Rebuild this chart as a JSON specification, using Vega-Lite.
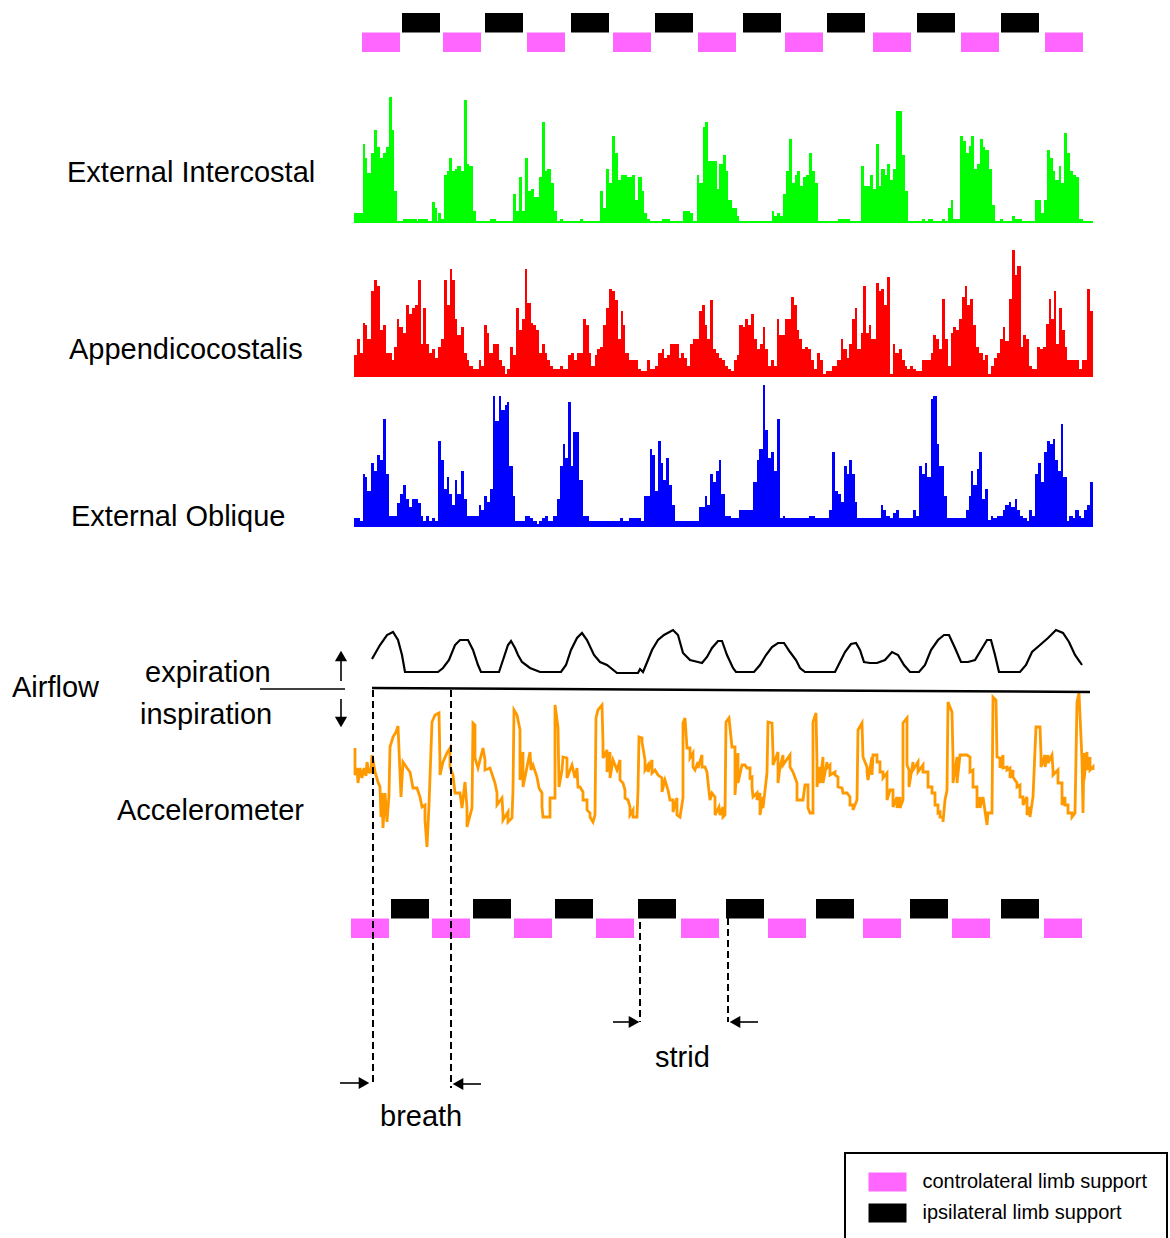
{
"$schema": "https://vega.github.io/schema/vega-lite/v6.json",
"width": 1170, "height": 1238, "autosize": {"type": "none"}, "padding": 0,
"background": "white",
"config": {"view": {"stroke": null}, "text": {"font": "Liberation Sans"}, "legend": {"strokeWidth": 2}},
"datasets": {
"limbs": [
{"rec":"top","limb":"controlateral limb support","start":362,"end":400},
{"rec":"top","limb":"controlateral limb support","start":443,"end":481},
{"rec":"top","limb":"controlateral limb support","start":527,"end":565},
{"rec":"top","limb":"controlateral limb support","start":613,"end":651},
{"rec":"top","limb":"controlateral limb support","start":698,"end":736},
{"rec":"top","limb":"controlateral limb support","start":785,"end":823},
{"rec":"top","limb":"controlateral limb support","start":873,"end":911},
{"rec":"top","limb":"controlateral limb support","start":961,"end":999},
{"rec":"top","limb":"controlateral limb support","start":1045,"end":1083},
{"rec":"top","limb":"ipsilateral limb support","start":402,"end":440},
{"rec":"top","limb":"ipsilateral limb support","start":485,"end":523},
{"rec":"top","limb":"ipsilateral limb support","start":571,"end":609},
{"rec":"top","limb":"ipsilateral limb support","start":655,"end":693},
{"rec":"top","limb":"ipsilateral limb support","start":743,"end":781},
{"rec":"top","limb":"ipsilateral limb support","start":827,"end":865},
{"rec":"top","limb":"ipsilateral limb support","start":917,"end":955},
{"rec":"top","limb":"ipsilateral limb support","start":1001,"end":1039},
{"rec":"bottom","limb":"controlateral limb support","start":351,"end":389},
{"rec":"bottom","limb":"controlateral limb support","start":432,"end":470},
{"rec":"bottom","limb":"controlateral limb support","start":514,"end":552},
{"rec":"bottom","limb":"controlateral limb support","start":596,"end":634},
{"rec":"bottom","limb":"controlateral limb support","start":681,"end":719},
{"rec":"bottom","limb":"controlateral limb support","start":768,"end":806},
{"rec":"bottom","limb":"controlateral limb support","start":863,"end":901},
{"rec":"bottom","limb":"controlateral limb support","start":952,"end":990},
{"rec":"bottom","limb":"controlateral limb support","start":1044,"end":1082},
{"rec":"bottom","limb":"ipsilateral limb support","start":391,"end":429},
{"rec":"bottom","limb":"ipsilateral limb support","start":473,"end":511},
{"rec":"bottom","limb":"ipsilateral limb support","start":555,"end":593},
{"rec":"bottom","limb":"ipsilateral limb support","start":638,"end":676},
{"rec":"bottom","limb":"ipsilateral limb support","start":726,"end":764},
{"rec":"bottom","limb":"ipsilateral limb support","start":816,"end":854},
{"rec":"bottom","limb":"ipsilateral limb support","start":910,"end":948},
{"rec":"bottom","limb":"ipsilateral limb support","start":1001,"end":1039}
],
"green": [
{"t":354,"v":10},{"t":363,"v":79},{"t":365,"v":65},{"t":367,"v":50},{"t":371,"v":70},{"t":374,"v":93},{"t":377,"v":76},{"t":380,"v":65},{"t":383,"v":70},{"t":386,"v":76},{"t":389,"v":126},{"t":392,"v":93},{"t":394,"v":32},{"t":397,"v":2},{"t":403,"v":4},{"t":417,"v":2},{"t":418,"v":4},{"t":428,"v":2},{"t":432,"v":21},{"t":435,"v":15},{"t":437,"v":2},{"t":438,"v":10},{"t":441,"v":4},{"t":444,"v":48},{"t":447,"v":52},{"t":449,"v":65},{"t":452,"v":52},{"t":455,"v":54},{"t":457,"v":57},{"t":461,"v":52},{"t":464,"v":123},{"t":467,"v":59},{"t":469,"v":57},{"t":473,"v":12},{"t":476,"v":2},{"t":490,"v":4},{"t":496,"v":2},{"t":513,"v":29},{"t":516,"v":12},{"t":519,"v":46},{"t":522,"v":12},{"t":525,"v":65},{"t":528,"v":32},{"t":531,"v":34},{"t":534,"v":26},{"t":539,"v":46},{"t":542,"v":101},{"t":545,"v":52},{"t":547,"v":54},{"t":551,"v":40},{"t":554,"v":12},{"t":557,"v":2},{"t":560,"v":4},{"t":563,"v":2},{"t":580,"v":4},{"t":583,"v":2},{"t":600,"v":32},{"t":603,"v":15},{"t":606,"v":54},{"t":609,"v":40},{"t":612,"v":87},{"t":615,"v":70},{"t":618,"v":43},{"t":621,"v":48},{"t":627,"v":46},{"t":632,"v":48},{"t":635,"v":23},{"t":638,"v":46},{"t":642,"v":32},{"t":644,"v":10},{"t":647,"v":4},{"t":650,"v":2},{"t":662,"v":4},{"t":670,"v":2},{"t":683,"v":12},{"t":690,"v":10},{"t":693,"v":2},{"t":697,"v":48},{"t":699,"v":40},{"t":703,"v":96},{"t":705,"v":101},{"t":708,"v":62},{"t":717,"v":34},{"t":719,"v":59},{"t":723,"v":68},{"t":726,"v":52},{"t":728,"v":23},{"t":732,"v":15},{"t":737,"v":7},{"t":739,"v":2},{"t":772,"v":12},{"t":774,"v":7},{"t":777,"v":10},{"t":780,"v":7},{"t":783,"v":29},{"t":786,"v":52},{"t":789,"v":84},{"t":792,"v":40},{"t":795,"v":48},{"t":797,"v":52},{"t":800,"v":37},{"t":803,"v":46},{"t":806,"v":48},{"t":809,"v":70},{"t":812,"v":52},{"t":815,"v":40},{"t":818,"v":2},{"t":838,"v":4},{"t":850,"v":2},{"t":861,"v":57},{"t":864,"v":37},{"t":870,"v":48},{"t":873,"v":34},{"t":876,"v":79},{"t":879,"v":37},{"t":881,"v":54},{"t":885,"v":48},{"t":887,"v":59},{"t":890,"v":43},{"t":893,"v":54},{"t":896,"v":112},{"t":902,"v":68},{"t":905,"v":32},{"t":908,"v":2},{"t":922,"v":4},{"t":925,"v":2},{"t":928,"v":4},{"t":933,"v":2},{"t":942,"v":4},{"t":945,"v":2},{"t":948,"v":15},{"t":951,"v":23},{"t":953,"v":4},{"t":960,"v":87},{"t":963,"v":82},{"t":966,"v":70},{"t":969,"v":77},{"t":971,"v":87},{"t":974,"v":54},{"t":977,"v":59},{"t":980,"v":84},{"t":983,"v":76},{"t":985,"v":73},{"t":989,"v":54},{"t":992,"v":18},{"t":995,"v":2},{"t":1000,"v":4},{"t":1003,"v":2},{"t":1012,"v":7},{"t":1015,"v":4},{"t":1022,"v":2},{"t":1035,"v":23},{"t":1041,"v":10},{"t":1044,"v":23},{"t":1047,"v":73},{"t":1050,"v":65},{"t":1053,"v":52},{"t":1055,"v":43},{"t":1059,"v":57},{"t":1061,"v":40},{"t":1064,"v":90},{"t":1067,"v":70},{"t":1070,"v":52},{"t":1073,"v":48},{"t":1076,"v":46},{"t":1079,"v":4},{"t":1083,"v":2},{"t":1093,"v":2}
],
"red": [
{"t":354,"v":22},{"t":357,"v":38},{"t":360,"v":24},{"t":363,"v":54},{"t":365,"v":52},{"t":367,"v":38},{"t":371,"v":86},{"t":374,"v":97},{"t":377,"v":91},{"t":380,"v":47},{"t":383,"v":52},{"t":386,"v":24},{"t":392,"v":17},{"t":394,"v":30},{"t":397,"v":58},{"t":399,"v":50},{"t":403,"v":44},{"t":406,"v":72},{"t":409,"v":63},{"t":412,"v":69},{"t":415,"v":72},{"t":418,"v":97},{"t":421,"v":33},{"t":423,"v":69},{"t":426,"v":33},{"t":429,"v":24},{"t":432,"v":28},{"t":435,"v":19},{"t":438,"v":30},{"t":441,"v":38},{"t":444,"v":97},{"t":447,"v":72},{"t":450,"v":108},{"t":452,"v":97},{"t":455,"v":58},{"t":457,"v":42},{"t":461,"v":50},{"t":464,"v":24},{"t":467,"v":17},{"t":469,"v":11},{"t":473,"v":8},{"t":479,"v":17},{"t":481,"v":11},{"t":484,"v":52},{"t":487,"v":44},{"t":489,"v":24},{"t":493,"v":33},{"t":499,"v":17},{"t":502,"v":11},{"t":505,"v":3},{"t":507,"v":8},{"t":510,"v":30},{"t":513,"v":22},{"t":516,"v":69},{"t":519,"v":47},{"t":522,"v":58},{"t":525,"v":108},{"t":527,"v":74},{"t":531,"v":54},{"t":533,"v":52},{"t":536,"v":47},{"t":539,"v":24},{"t":542,"v":33},{"t":545,"v":24},{"t":547,"v":17},{"t":550,"v":11},{"t":553,"v":8},{"t":560,"v":11},{"t":563,"v":8},{"t":568,"v":22},{"t":571,"v":24},{"t":574,"v":17},{"t":577,"v":24},{"t":583,"v":58},{"t":586,"v":52},{"t":589,"v":24},{"t":591,"v":11},{"t":595,"v":22},{"t":597,"v":28},{"t":600,"v":30},{"t":603,"v":52},{"t":606,"v":69},{"t":609,"v":88},{"t":612,"v":86},{"t":615,"v":77},{"t":618,"v":38},{"t":621,"v":66},{"t":623,"v":52},{"t":625,"v":24},{"t":629,"v":17},{"t":638,"v":8},{"t":641,"v":6},{"t":647,"v":17},{"t":650,"v":8},{"t":655,"v":11},{"t":658,"v":24},{"t":662,"v":28},{"t":664,"v":19},{"t":667,"v":22},{"t":670,"v":33},{"t":679,"v":19},{"t":681,"v":24},{"t":684,"v":19},{"t":687,"v":11},{"t":690,"v":33},{"t":693,"v":38},{"t":699,"v":66},{"t":702,"v":72},{"t":705,"v":52},{"t":707,"v":38},{"t":710,"v":77},{"t":713,"v":28},{"t":716,"v":24},{"t":719,"v":19},{"t":722,"v":17},{"t":725,"v":11},{"t":728,"v":8},{"t":731,"v":6},{"t":734,"v":17},{"t":737,"v":22},{"t":739,"v":52},{"t":743,"v":50},{"t":745,"v":58},{"t":748,"v":52},{"t":751,"v":63},{"t":754,"v":38},{"t":757,"v":28},{"t":760,"v":33},{"t":763,"v":50},{"t":765,"v":28},{"t":768,"v":11},{"t":771,"v":17},{"t":774,"v":11},{"t":777,"v":58},{"t":779,"v":42},{"t":785,"v":58},{"t":791,"v":80},{"t":794,"v":72},{"t":797,"v":47},{"t":799,"v":38},{"t":802,"v":28},{"t":805,"v":30},{"t":808,"v":28},{"t":811,"v":17},{"t":814,"v":8},{"t":817,"v":24},{"t":820,"v":17},{"t":823,"v":3},{"t":826,"v":6},{"t":832,"v":11},{"t":837,"v":17},{"t":841,"v":38},{"t":843,"v":28},{"t":847,"v":19},{"t":849,"v":33},{"t":852,"v":58},{"t":855,"v":69},{"t":857,"v":28},{"t":861,"v":44},{"t":863,"v":91},{"t":866,"v":44},{"t":869,"v":52},{"t":871,"v":38},{"t":876,"v":94},{"t":879,"v":86},{"t":881,"v":88},{"t":884,"v":72},{"t":887,"v":100},{"t":890,"v":3},{"t":893,"v":33},{"t":895,"v":24},{"t":899,"v":28},{"t":902,"v":17},{"t":905,"v":11},{"t":907,"v":8},{"t":910,"v":11},{"t":913,"v":8},{"t":916,"v":6},{"t":922,"v":17},{"t":931,"v":24},{"t":933,"v":42},{"t":936,"v":38},{"t":939,"v":28},{"t":942,"v":78},{"t":945,"v":38},{"t":948,"v":11},{"t":951,"v":44},{"t":953,"v":50},{"t":956,"v":47},{"t":959,"v":58},{"t":962,"v":80},{"t":965,"v":91},{"t":967,"v":72},{"t":970,"v":78},{"t":973,"v":52},{"t":976,"v":30},{"t":979,"v":24},{"t":983,"v":17},{"t":985,"v":22},{"t":988,"v":3},{"t":991,"v":11},{"t":994,"v":19},{"t":997,"v":24},{"t":1000,"v":38},{"t":1003,"v":50},{"t":1005,"v":36},{"t":1009,"v":78},{"t":1012,"v":127},{"t":1015,"v":102},{"t":1017,"v":111},{"t":1021,"v":30},{"t":1023,"v":42},{"t":1026,"v":38},{"t":1029,"v":11},{"t":1032,"v":8},{"t":1037,"v":30},{"t":1040,"v":28},{"t":1043,"v":30},{"t":1046,"v":53},{"t":1049,"v":78},{"t":1051,"v":58},{"t":1054,"v":86},{"t":1056,"v":33},{"t":1059,"v":69},{"t":1062,"v":47},{"t":1065,"v":30},{"t":1067,"v":17},{"t":1079,"v":8},{"t":1082,"v":17},{"t":1087,"v":88},{"t":1090,"v":66},{"t":1093,"v":66}
],
"blue": [
{"t":354,"v":9},{"t":360,"v":6},{"t":363,"v":53},{"t":365,"v":50},{"t":367,"v":36},{"t":371,"v":64},{"t":374,"v":56},{"t":377,"v":72},{"t":380,"v":67},{"t":383,"v":108},{"t":386,"v":53},{"t":389,"v":11},{"t":397,"v":24},{"t":400,"v":33},{"t":403,"v":42},{"t":406,"v":28},{"t":409,"v":20},{"t":412,"v":28},{"t":418,"v":24},{"t":421,"v":11},{"t":423,"v":6},{"t":426,"v":11},{"t":429,"v":6},{"t":432,"v":9},{"t":435,"v":6},{"t":438,"v":86},{"t":441,"v":67},{"t":444,"v":38},{"t":447,"v":50},{"t":449,"v":33},{"t":452,"v":22},{"t":455,"v":47},{"t":457,"v":33},{"t":461,"v":56},{"t":464,"v":28},{"t":467,"v":11},{"t":479,"v":22},{"t":481,"v":17},{"t":484,"v":31},{"t":487,"v":25},{"t":490,"v":38},{"t":493,"v":131},{"t":495,"v":106},{"t":499,"v":131},{"t":501,"v":117},{"t":505,"v":122},{"t":507,"v":125},{"t":509,"v":61},{"t":513,"v":31},{"t":515,"v":6},{"t":525,"v":11},{"t":530,"v":9},{"t":533,"v":6},{"t":537,"v":3},{"t":539,"v":6},{"t":542,"v":9},{"t":545,"v":11},{"t":548,"v":6},{"t":553,"v":11},{"t":557,"v":28},{"t":560,"v":61},{"t":563,"v":83},{"t":565,"v":69},{"t":568,"v":125},{"t":571,"v":61},{"t":573,"v":95},{"t":579,"v":47},{"t":583,"v":11},{"t":589,"v":6},{"t":620,"v":9},{"t":623,"v":6},{"t":629,"v":9},{"t":641,"v":6},{"t":644,"v":31},{"t":650,"v":78},{"t":652,"v":72},{"t":655,"v":36},{"t":658,"v":86},{"t":661,"v":64},{"t":663,"v":47},{"t":666,"v":69},{"t":669,"v":42},{"t":672,"v":22},{"t":675,"v":6},{"t":699,"v":20},{"t":705,"v":31},{"t":707,"v":22},{"t":710,"v":53},{"t":713,"v":45},{"t":716,"v":56},{"t":719,"v":67},{"t":721,"v":33},{"t":725,"v":11},{"t":731,"v":9},{"t":739,"v":17},{"t":753,"v":45},{"t":757,"v":67},{"t":759,"v":78},{"t":763,"v":142},{"t":765,"v":97},{"t":768,"v":69},{"t":771,"v":75},{"t":774,"v":56},{"t":777,"v":108},{"t":780,"v":9},{"t":783,"v":11},{"t":785,"v":9},{"t":809,"v":11},{"t":815,"v":9},{"t":829,"v":17},{"t":832,"v":75},{"t":835,"v":36},{"t":838,"v":33},{"t":841,"v":25},{"t":844,"v":61},{"t":847,"v":53},{"t":849,"v":67},{"t":852,"v":53},{"t":855,"v":25},{"t":857,"v":9},{"t":881,"v":22},{"t":883,"v":17},{"t":886,"v":11},{"t":890,"v":9},{"t":893,"v":14},{"t":896,"v":17},{"t":899,"v":9},{"t":913,"v":17},{"t":916,"v":11},{"t":919,"v":61},{"t":922,"v":53},{"t":925,"v":64},{"t":927,"v":50},{"t":931,"v":128},{"t":933,"v":131},{"t":937,"v":83},{"t":939,"v":61},{"t":944,"v":31},{"t":947,"v":9},{"t":966,"v":17},{"t":969,"v":31},{"t":971,"v":56},{"t":973,"v":42},{"t":977,"v":58},{"t":979,"v":75},{"t":982,"v":28},{"t":985,"v":38},{"t":988,"v":7},{"t":991,"v":11},{"t":993,"v":9},{"t":997,"v":11},{"t":1003,"v":17},{"t":1005,"v":22},{"t":1009,"v":25},{"t":1011,"v":20},{"t":1015,"v":28},{"t":1017,"v":17},{"t":1020,"v":11},{"t":1023,"v":9},{"t":1027,"v":6},{"t":1029,"v":17},{"t":1032,"v":11},{"t":1035,"v":53},{"t":1038,"v":64},{"t":1041,"v":45},{"t":1044,"v":75},{"t":1047,"v":86},{"t":1050,"v":83},{"t":1053,"v":88},{"t":1055,"v":67},{"t":1058,"v":56},{"t":1061,"v":103},{"t":1063,"v":50},{"t":1067,"v":6},{"t":1069,"v":11},{"t":1073,"v":9},{"t":1075,"v":17},{"t":1079,"v":11},{"t":1081,"v":9},{"t":1084,"v":17},{"t":1087,"v":22},{"t":1090,"v":45},{"t":1093,"v":45}
],
"airflow": [
{"t":372,"v":31},{"t":380,"v":45},{"t":387,"v":55},{"t":393,"v":58},{"t":398,"v":50},{"t":402,"v":35},{"t":405,"v":18},{"t":438,"v":18},{"t":443,"v":22},{"t":449,"v":30},{"t":455,"v":45},{"t":460,"v":50},{"t":468,"v":50},{"t":473,"v":40},{"t":478,"v":25},{"t":481,"v":18},{"t":499,"v":18},{"t":503,"v":30},{"t":508,"v":45},{"t":511,"v":49},{"t":515,"v":42},{"t":518,"v":35},{"t":522,"v":28},{"t":530,"v":22},{"t":540,"v":18},{"t":561,"v":18},{"t":566,"v":25},{"t":571,"v":40},{"t":577,"v":52},{"t":582,"v":57},{"t":587,"v":50},{"t":594,"v":35},{"t":600,"v":28},{"t":607,"v":25},{"t":617,"v":17},{"t":638,"v":17},{"t":640,"v":21},{"t":643,"v":18},{"t":648,"v":30},{"t":652,"v":40},{"t":658,"v":50},{"t":664,"v":55},{"t":673,"v":60},{"t":678,"v":55},{"t":683,"v":37},{"t":690,"v":30},{"t":698,"v":28},{"t":702,"v":27},{"t":707,"v":33},{"t":712,"v":42},{"t":718,"v":49},{"t":722,"v":49},{"t":727,"v":35},{"t":733,"v":22},{"t":736,"v":18},{"t":754,"v":18},{"t":760,"v":25},{"t":766,"v":35},{"t":772,"v":43},{"t":778,"v":47},{"t":784,"v":47},{"t":790,"v":38},{"t":796,"v":30},{"t":800,"v":22},{"t":805,"v":18},{"t":835,"v":18},{"t":840,"v":28},{"t":845,"v":38},{"t":851,"v":46},{"t":856,"v":47},{"t":860,"v":40},{"t":864,"v":28},{"t":870,"v":27},{"t":877,"v":27},{"t":885,"v":30},{"t":892,"v":38},{"t":898,"v":35},{"t":904,"v":25},{"t":910,"v":18},{"t":919,"v":18},{"t":925,"v":25},{"t":931,"v":40},{"t":938,"v":50},{"t":944,"v":55},{"t":949,"v":55},{"t":955,"v":42},{"t":961,"v":28},{"t":968,"v":28},{"t":975,"v":30},{"t":981,"v":40},{"t":987,"v":50},{"t":991,"v":50},{"t":995,"v":35},{"t":999,"v":18},{"t":1020,"v":18},{"t":1026,"v":25},{"t":1032,"v":38},{"t":1040,"v":45},{"t":1048,"v":52},{"t":1056,"v":60},{"t":1063,"v":57},{"t":1069,"v":48},{"t":1075,"v":35},{"t":1080,"v":28},{"t":1082,"v":25}
],
"accel": [
{"t":355,"v":22},{"t":355,"v":-5},{"t":357,"v":2},{"t":358,"v":-13},{"t":360,"v":2},{"t":362,"v":-8},{"t":364,"v":2},{"t":366,"v":-6},{"t":367,"v":8},{"t":369,"v":-2},{"t":371,"v":-2},{"t":372,"v":15},{"t":373,"v":10},{"t":375,"v":-2},{"t":378,"v":-12},{"t":380,"v":-17},{"t":381,"v":-47},{"t":382,"v":-23},{"t":383,"v":-58},{"t":385,"v":-23},{"t":387,"v":-52},{"t":389,"v":-25},{"t":390,"v":23},{"t":393,"v":33},{"t":396,"v":38},{"t":398,"v":44},{"t":400,"v":-3},{"t":401,"v":-27},{"t":403,"v":8},{"t":407,"v":2},{"t":410,"v":-2},{"t":413,"v":-18},{"t":417,"v":-18},{"t":420,"v":-27},{"t":422,"v":-37},{"t":425,"v":-35},{"t":425,"v":-50},{"t":427,"v":-77},{"t":429,"v":-35},{"t":432,"v":48},{"t":435,"v":55},{"t":439,"v":57},{"t":440,"v":8},{"t":440,"v":-5},{"t":443,"v":8},{"t":447,"v":17},{"t":450,"v":22},{"t":450,"v":3},{"t":453,"v":-5},{"t":455,"v":-23},{"t":460,"v":-23},{"t":462,"v":-38},{"t":465,"v":-12},{"t":467,"v":-38},{"t":467,"v":-57},{"t":472,"v":-38},{"t":473,"v":47},{"t":475,"v":45},{"t":475,"v":12},{"t":478,"v":2},{"t":483,"v":22},{"t":485,"v":10},{"t":485,"v":0},{"t":490,"v":2},{"t":495,"v":-13},{"t":497,"v":-23},{"t":497,"v":-35},{"t":502,"v":-28},{"t":503,"v":-45},{"t":503,"v":-50},{"t":508,"v":-42},{"t":508,"v":-52},{"t":512,"v":-48},{"t":513,"v":-20},{"t":514,"v":60},{"t":517,"v":55},{"t":520,"v":40},{"t":520,"v":-10},{"t":523,"v":18},{"t":523,"v":-17},{"t":530,"v":18},{"t":531,"v":0},{"t":533,"v":5},{"t":537,"v":-7},{"t":539,"v":-18},{"t":542,"v":-23},{"t":542,"v":-37},{"t":543,"v":-47},{"t":550,"v":-47},{"t":550,"v":-28},{"t":555,"v":-28},{"t":555,"v":65},{"t":558,"v":43},{"t":559,"v":-17},{"t":562,"v":0},{"t":563,"v":13},{"t":567,"v":12},{"t":567,"v":-8},{"t":572,"v":5},{"t":575,"v":-8},{"t":577,"v":2},{"t":578,"v":-17},{"t":580,"v":-17},{"t":583,"v":-22},{"t":583,"v":-30},{"t":587,"v":-30},{"t":587,"v":-40},{"t":590,"v":-43},{"t":590,"v":-47},{"t":593,"v":-52},{"t":595,"v":-45},{"t":596,"v":52},{"t":598,"v":60},{"t":602,"v":65},{"t":603,"v":27},{"t":603,"v":12},{"t":607,"v":20},{"t":607,"v":-2},{"t":610,"v":18},{"t":610,"v":-8},{"t":613,"v":10},{"t":617,"v":0},{"t":620,"v":10},{"t":620,"v":-10},{"t":623,"v":-13},{"t":625,"v":-20},{"t":625,"v":-28},{"t":628,"v":-30},{"t":630,"v":-37},{"t":630,"v":-45},{"t":633,"v":-40},{"t":633,"v":-47},{"t":637,"v":-47},{"t":638,"v":-20},{"t":639,"v":33},{"t":642,"v":32},{"t":642,"v":28},{"t":645,"v":10},{"t":645,"v":0},{"t":648,"v":5},{"t":648,"v":-2},{"t":652,"v":10},{"t":652,"v":-3},{"t":655,"v":0},{"t":658,"v":-5},{"t":662,"v":-8},{"t":662,"v":-22},{"t":665,"v":-10},{"t":668,"v":-20},{"t":670,"v":-30},{"t":673,"v":-30},{"t":673,"v":-42},{"t":677,"v":-28},{"t":677,"v":-45},{"t":680,"v":-47},{"t":683,"v":-28},{"t":683,"v":47},{"t":685,"v":52},{"t":687,"v":22},{"t":690,"v":22},{"t":690,"v":12},{"t":693,"v":17},{"t":693,"v":3},{"t":695,"v":0},{"t":698,"v":8},{"t":698,"v":2},{"t":702,"v":15},{"t":702,"v":3},{"t":705,"v":3},{"t":707,"v":-2},{"t":708,"v":-12},{"t":710,"v":-30},{"t":712,"v":-23},{"t":715,"v":-27},{"t":715,"v":-45},{"t":719,"v":-37},{"t":720,"v":-45},{"t":723,"v":-37},{"t":723,"v":-47},{"t":725,"v":-45},{"t":726,"v":48},{"t":729,"v":52},{"t":732,"v":23},{"t":735,"v":23},{"t":735,"v":-25},{"t":738,"v":17},{"t":738,"v":-13},{"t":742,"v":5},{"t":745,"v":5},{"t":747,"v":2},{"t":750,"v":2},{"t":750,"v":-8},{"t":752,"v":-7},{"t":752,"v":-17},{"t":753,"v":-27},{"t":757,"v":-23},{"t":757,"v":-30},{"t":760,"v":-23},{"t":760,"v":-45},{"t":763,"v":-27},{"t":763,"v":-38},{"t":767,"v":-3},{"t":768,"v":48},{"t":772,"v":47},{"t":773,"v":17},{"t":773,"v":5},{"t":778,"v":18},{"t":778,"v":-13},{"t":780,"v":3},{"t":783,"v":15},{"t":783,"v":5},{"t":790,"v":15},{"t":790,"v":3},{"t":793,"v":-2},{"t":797,"v":-13},{"t":797,"v":-30},{"t":803,"v":-30},{"t":805,"v":-15},{"t":808,"v":-15},{"t":808,"v":-38},{"t":810,"v":-43},{"t":813,"v":-43},{"t":813,"v":48},{"t":816,"v":57},{"t":817,"v":7},{"t":817,"v":-17},{"t":820,"v":3},{"t":820,"v":-13},{"t":823,"v":13},{"t":823,"v":-13},{"t":827,"v":8},{"t":827,"v":2},{"t":830,"v":5},{"t":830,"v":-5},{"t":835,"v":-2},{"t":835,"v":-5},{"t":838,"v":-7},{"t":838,"v":-17},{"t":842,"v":-18},{"t":843,"v":-23},{"t":847,"v":-23},{"t":850,"v":-27},{"t":850,"v":-35},{"t":853,"v":-35},{"t":853,"v":-40},{"t":857,"v":-30},{"t":858,"v":40},{"t":862,"v":47},{"t":863,"v":13},{"t":867,"v":3},{"t":867,"v":-2},{"t":868,"v":-10},{"t":872,"v":13},{"t":872,"v":-5},{"t":873,"v":15},{"t":877,"v":15},{"t":877,"v":8},{"t":880,"v":8},{"t":880,"v":-2},{"t":883,"v":-2},{"t":883,"v":-8},{"t":887,"v":-3},{"t":887,"v":-30},{"t":890,"v":-20},{"t":893,"v":-20},{"t":893,"v":-37},{"t":897,"v":-27},{"t":897,"v":-38},{"t":900,"v":-27},{"t":900,"v":-38},{"t":903,"v":-30},{"t":903,"v":47},{"t":907,"v":52},{"t":907,"v":5},{"t":909,"v":0},{"t":909,"v":-17},{"t":913,"v":8},{"t":913,"v":0},{"t":918,"v":8},{"t":918,"v":-2},{"t":923,"v":5},{"t":923,"v":-2},{"t":928,"v":-2},{"t":928,"v":-17},{"t":932,"v":-17},{"t":932,"v":-23},{"t":935,"v":-23},{"t":935,"v":-35},{"t":938,"v":-35},{"t":938,"v":-43},{"t":940,"v":-42},{"t":940,"v":-47},{"t":943,"v":-47},{"t":943,"v":-52},{"t":945,"v":-30},{"t":947,"v":-20},{"t":948,"v":68},{"t":952,"v":58},{"t":953,"v":13},{"t":953,"v":-13},{"t":957,"v":13},{"t":957,"v":-13},{"t":960,"v":15},{"t":967,"v":15},{"t":970,"v":13},{"t":970,"v":-2},{"t":973,"v":0},{"t":973,"v":-17},{"t":977,"v":-17},{"t":977,"v":-38},{"t":980,"v":-27},{"t":980,"v":-38},{"t":983,"v":-27},{"t":987,"v":-55},{"t":988,"v":-43},{"t":992,"v":-43},{"t":993,"v":73},{"t":996,"v":70},{"t":997,"v":13},{"t":1000,"v":12},{"t":1000,"v":2},{"t":1003,"v":15},{"t":1003,"v":2},{"t":1007,"v":3},{"t":1007,"v":0},{"t":1010,"v":2},{"t":1010,"v":-8},{"t":1013,"v":0},{"t":1013,"v":-7},{"t":1017,"v":-13},{"t":1017,"v":-17},{"t":1020,"v":-15},{"t":1020,"v":-27},{"t":1023,"v":-27},{"t":1023,"v":-35},{"t":1027,"v":-27},{"t":1027,"v":-45},{"t":1030,"v":-37},{"t":1030,"v":-47},{"t":1033,"v":-27},{"t":1036,"v":43},{"t":1040,"v":43},{"t":1041,"v":15},{"t":1041,"v":3},{"t":1045,"v":15},{"t":1045,"v":3},{"t":1048,"v":15},{"t":1048,"v":7},{"t":1052,"v":15},{"t":1053,"v":0},{"t":1053,"v":-5},{"t":1058,"v":0},{"t":1058,"v":-13},{"t":1062,"v":-13},{"t":1062,"v":-35},{"t":1065,"v":-27},{"t":1065,"v":-35},{"t":1068,"v":-35},{"t":1068,"v":-43},{"t":1072,"v":-43},{"t":1072,"v":-47},{"t":1075,"v":-43},{"t":1077,"v":68},{"t":1079,"v":77},{"t":1082,"v":10},{"t":1083,"v":-43},{"t":1084,"v":17},{"t":1084,"v":-10},{"t":1087,"v":18},{"t":1087,"v":0},{"t":1090,"v":13},{"t":1090,"v":0},{"t":1093,"v":3},{"t":1093,"v":0}
],
"rules": [
{"kind":"zero","x":372,"x2":1090,"y":688,"y2":692},
{"kind":"thin","x":260,"x2":345,"y":689,"y2":689},
{"kind":"thin","x":341,"x2":341,"y":660,"y2":681},
{"kind":"thin","x":341,"x2":341,"y":699,"y2":718},
{"kind":"thin","x":613,"x2":630,"y":1022,"y2":1022},
{"kind":"thin","x":739,"x2":758,"y":1022,"y2":1022},
{"kind":"thin","x":340,"x2":360,"y":1083,"y2":1083},
{"kind":"thin","x":462,"x2":481,"y":1084,"y2":1084},
{"kind":"dash","x":373,"x2":373,"y":690,"y2":1083},
{"kind":"dash","x":451,"x2":451,"y":690,"y2":1088},
{"kind":"dash","x":640,"x2":640,"y":900,"y2":1022},
{"kind":"dash","x":728,"x2":728,"y":918,"y2":1022}
],
"heads": [
{"dir":"up","x":341,"y":656},
{"dir":"down","x":341,"y":722},
{"dir":"right","x":634,"y":1022},
{"dir":"left","x":735,"y":1022},
{"dir":"right","x":364,"y":1083},
{"dir":"left","x":458,"y":1084}
],
"labels": [
{"text":"External Intercostal","x":67,"y":173},
{"text":"Appendicocostalis","x":69,"y":350},
{"text":"External Oblique","x":71,"y":517},
{"text":"Airflow","x":12,"y":688},
{"text":"expiration","x":145,"y":673},
{"text":"inspiration","x":140,"y":715},
{"text":"Accelerometer","x":117,"y":811},
{"text":"strid","x":655,"y":1058},
{"text":"breath","x":380,"y":1117}
]
},
"layer": [
{"data":{"name":"limbs"},"transform":[{"filter":"datum.rec === 'top'"}],"mark":{"type":"rect"},
 "encoding":{
  "x":{"field":"start","type":"quantitative","scale":{"domain":[0,1170],"nice":false,"zero":false},"axis":null},
  "x2":{"field":"end"},
  "y":{"field":"limb","type":"nominal","scale":{"type":"band","domain":["ipsilateral limb support","controlateral limb support"],"range":[13,52],"paddingInner":0,"paddingOuter":0},"axis":null},
  "color":{"field":"limb","type":"nominal","scale":{"domain":["controlateral limb support","ipsilateral limb support"],"range":["#ff66ff","#000000"]},
   "legend":{"title":null,"orient":"none","legendX":845,"legendY":1153,"direction":"vertical","strokeColor":"black","fillColor":"white","padding":19,"symbolType":"M-2,-1H2V1H-2Z","symbolSize":361,"symbolOffset":13.5,"symbolStrokeWidth":0,"symbolOpacity":1,"labelFontSize":20,"labelFont":"Liberation Sans","labelColor":"black","labelOffset":25,"rowPadding":11,"labelLimit":400}}
 }},
{"data":{"name":"limbs"},"transform":[{"filter":"datum.rec === 'bottom'"}],"mark":{"type":"rect"},
 "encoding":{
  "x":{"field":"start","type":"quantitative","scale":{"domain":[0,1170],"nice":false,"zero":false},"axis":null},
  "x2":{"field":"end"},
  "y":{"field":"limb","type":"nominal","scale":{"type":"band","domain":["ipsilateral limb support","controlateral limb support"],"range":[899,938],"paddingInner":0,"paddingOuter":0},"axis":null},
  "color":{"field":"limb","type":"nominal","scale":{"domain":["controlateral limb support","ipsilateral limb support"],"range":["#ff66ff","#000000"]},
   "legend":{"title":null,"orient":"none","legendX":845,"legendY":1153,"direction":"vertical","strokeColor":"black","fillColor":"white","padding":19,"symbolType":"M-2,-1H2V1H-2Z","symbolSize":361,"symbolOffset":13.5,"symbolStrokeWidth":0,"symbolOpacity":1,"labelFontSize":20,"labelFont":"Liberation Sans","labelColor":"black","labelOffset":25,"rowPadding":11,"labelLimit":400}}
 }},
{"data":{"name":"green"},"mark":{"type":"area","interpolate":"step-after","color":"#00ff00"},
 "encoding":{
  "x":{"field":"t","type":"quantitative","scale":{"domain":[0,1170],"nice":false,"zero":false},"axis":null},
  "y":{"field":"v","type":"quantitative","scale":{"domain":[-1015,223],"nice":false,"zero":false},"axis":null},
  "y2":{"datum":0}
 }},
{"data":{"name":"red"},"mark":{"type":"area","interpolate":"step-after","color":"#ff0000"},
 "encoding":{
  "x":{"field":"t","type":"quantitative","scale":{"domain":[0,1170],"nice":false,"zero":false},"axis":null},
  "y":{"field":"v","type":"quantitative","scale":{"domain":[-861,377],"nice":false,"zero":false},"axis":null},
  "y2":{"datum":0}
 }},
{"data":{"name":"blue"},"mark":{"type":"area","interpolate":"step-after","color":"#0000ff"},
 "encoding":{
  "x":{"field":"t","type":"quantitative","scale":{"domain":[0,1170],"nice":false,"zero":false},"axis":null},
  "y":{"field":"v","type":"quantitative","scale":{"domain":[-711,527],"nice":false,"zero":false},"axis":null},
  "y2":{"datum":0}
 }},
{"data":{"name":"airflow"},"mark":{"type":"line","color":"black","strokeWidth":2.2},
 "encoding":{
  "x":{"field":"t","type":"quantitative","scale":{"domain":[0,1170],"nice":false,"zero":false},"axis":null},
  "y":{"field":"v","type":"quantitative","scale":{"domain":[-548,690],"nice":false,"zero":false},"axis":null}
 }},
{"data":{"name":"accel"},"mark":{"type":"line","color":"#ff9900","strokeWidth":2.8},
 "encoding":{
  "x":{"field":"t","type":"quantitative","scale":{"domain":[0,1170],"nice":false,"zero":false},"axis":null},
  "y":{"field":"v","type":"quantitative","scale":{"domain":[-468,770],"nice":false,"zero":false},"axis":null},
  "order":{"value":null}
 }},
{"data":{"name":"rules"},"transform":[{"filter":"datum.kind === 'zero'"}],"mark":{"type":"rule","color":"black","strokeWidth":2.5},
 "encoding":{
  "x":{"field":"x","type":"quantitative","scale":{"domain":[0,1170],"nice":false,"zero":false},"axis":null},
  "x2":{"field":"x2"},
  "y":{"field":"y","type":"quantitative","scale":{"domain":[0,1238],"reverse":true,"nice":false,"zero":false},"axis":null},
  "y2":{"field":"y2"}
 }},
{"data":{"name":"rules"},"transform":[{"filter":"datum.kind === 'thin'"}],"mark":{"type":"rule","color":"black","strokeWidth":1.6},
 "encoding":{
  "x":{"field":"x","type":"quantitative","scale":{"domain":[0,1170],"nice":false,"zero":false},"axis":null},
  "x2":{"field":"x2"},
  "y":{"field":"y","type":"quantitative","scale":{"domain":[0,1238],"reverse":true,"nice":false,"zero":false},"axis":null},
  "y2":{"field":"y2"}
 }},
{"data":{"name":"rules"},"transform":[{"filter":"datum.kind === 'dash'"}],"mark":{"type":"rule","color":"black","strokeWidth":2,"strokeDash":[7,4]},
 "encoding":{
  "x":{"field":"x","type":"quantitative","scale":{"domain":[0,1170],"nice":false,"zero":false},"axis":null},
  "x2":{"field":"x2"},
  "y":{"field":"y","type":"quantitative","scale":{"domain":[0,1238],"reverse":true,"nice":false,"zero":false},"axis":null},
  "y2":{"field":"y2"}
 }},
{"data":{"name":"heads"},"mark":{"type":"point","filled":true,"color":"black","size":150,"opacity":1,"strokeWidth":0},
 "encoding":{
  "x":{"field":"x","type":"quantitative","scale":{"domain":[0,1170],"nice":false,"zero":false},"axis":null},
  "y":{"field":"y","type":"quantitative","scale":{"domain":[0,1238],"reverse":true,"nice":false,"zero":false},"axis":null},
  "shape":{"field":"dir","type":"nominal","scale":{"domain":["up","down","left","right"],"range":["triangle-up","triangle-down","triangle-left","triangle-right"]},"legend":null}
 }},
{"data":{"name":"labels"},"mark":{"type":"text","align":"left","baseline":"middle","fontSize":29,"font":"Liberation Sans","color":"black"},
 "encoding":{
  "x":{"field":"x","type":"quantitative","scale":{"domain":[0,1170],"nice":false,"zero":false},"axis":null},
  "y":{"field":"y","type":"quantitative","scale":{"domain":[0,1238],"reverse":true,"nice":false,"zero":false},"axis":null},
  "text":{"field":"text"}
 }}
],
"resolve":{"scale":{"y":"independent"}}
}
